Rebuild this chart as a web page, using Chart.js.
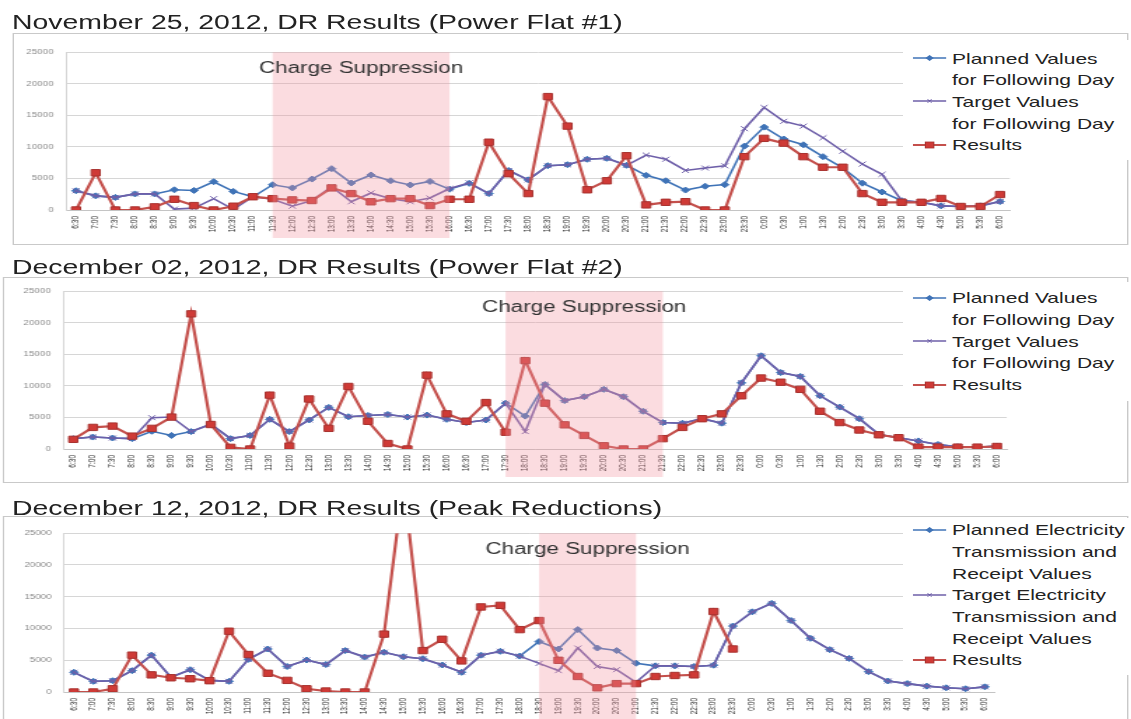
<!DOCTYPE html>
<html>
<head>
<meta charset="utf-8">
<script src="https://cdn.jsdelivr.net/npm/chart.js@4.4.1/dist/chart.umd.min.js"></script>
<style>
  html, body { margin: 0; padding: 0; background: #fff; overflow: hidden; }
  body { width: 1131px; height: 719px; position: relative; }
  /* the source picture is stretched sideways, so the whole page is too */
  #page { position: absolute; left: 0; top: 0; width: 808px; height: 719px;
          transform: scaleX(1.4); transform-origin: 0 0;
          font-family: 'Liberation Sans', Arial, sans-serif; color: #222; }
  .title { position: absolute; left: 8.6px; font-size: 20.3px; line-height: 20px; white-space: nowrap; }
  .frame { position: absolute; border: 1px solid #c9c9c9; box-sizing: border-box; }
  .plot { position: absolute; left: 0; width: 808px; }
  .legend { position: absolute; left: 645px; width: 163px; background: #fff;
            font-size: 15px; line-height: 21.7px; }
  .item { position: relative; padding-left: 35px; white-space: nowrap; }
  .item svg { position: absolute; left: 7px; top: 4.5px; }
</style>
</head>
<body>
<div id="page">
  <div class="frame" style="left:8.6px; top:33px; width:797px; height:212px;"></div>
  <div class="frame" style="left:2px; top:277px; width:804px; height:206px;"></div>
  <div class="frame" style="left:2px; top:516px; width:804px; height:210px;"></div>

  <div class="title" style="top:12px;">November 25, 2012, DR Results (Power Flat #1)</div>
  <div class="title" style="top:257px;">December 02, 2012, DR Results (Power Flat #2)</div>
  <div class="title" style="top:498px;">December 12, 2012, DR Results (Peak Reductions)</div>

  <div class="plot" style="top:39px; height:201px;"><canvas id="c1"></canvas></div>
  <div class="plot" style="top:278px; height:201px;"><canvas id="c2"></canvas></div>
  <div class="plot" style="top:520px; height:202px;"><canvas id="c3"></canvas></div>

  <div class="legend" id="lg1" style="top:40px; padding-top:7.5px; padding-bottom:4px;"></div>
  <div class="legend" id="lg2" style="top:282px; padding-top:5.2px; padding-bottom:4px;"></div>
  <div class="legend" id="lg3" style="top:518px; padding-top:1.2px; padding-bottom:4px;"></div>
</div>

<script>
const times = ['6:30','7:00','7:30','8:00','8:30','9:00','9:30','10:00','10:30','11:00','11:30','12:00',
  '12:30','13:00','13:30','14:00','14:30','15:00','15:30','16:00','16:30','17:00','17:30','18:00',
  '18:30','19:00','19:30','20:00','20:30','21:00','21:30','22:00','22:30','23:00','23:30','0:00',
  '0:30','1:00','1:30','2:00','2:30','3:00','3:30','4:00','4:30','5:00','5:30','6:00'];

// November 25 (Power Flat #1)
const nov25_planned = [3050,2240,2000,2550,2550,3200,3100,4480,2950,2100,4000,3500,
  4900,6550,4280,5550,4630,3970,4530,3300,4220,2600,6260,4780,
  7020,7180,8040,8190,7080,5500,4630,3160,3770,4020,10130,13130,
  11250,10330,8450,6670,4250,2850,1480,1220,660,560,660,1330];
const nov25_target = [3050,2240,2000,2550,2550,150,300,1800,100,2100,1700,600,
  1500,3700,1300,2700,1800,1300,1900,3400,4300,2600,6260,4780,
  7020,7180,8040,8190,7080,8700,8040,6260,6650,7000,12880,16240,
  14050,13290,11450,9310,7280,5650,1480,1220,660,560,660,1330];
const nov25_results = [0,5900,0,0,500,1700,700,0,600,2100,1800,1600,
  1500,3500,2600,1300,1800,1800,700,1700,1700,10740,5750,2600,
  17970,13290,3200,4630,8600,810,1220,1320,0,0,8450,11350,
  10590,8450,6770,6770,2600,1220,1220,1220,1830,560,560,2450];

// December 02 (Power Flat #2)
const dec02_planned = [1640,1890,1740,1640,2810,2150,2760,3930,1640,2150,4700,2760,
  4600,6590,5110,5310,5470,5060,5370,4700,4190,4600,7260,5210,
  10220,7670,8280,9450,8280,5980,4190,4090,4800,4090,10480,14770,
  12110,11500,8430,6640,4800,2300,1790,1280,720,360,260,460];
const dec02_target = [1640,1890,1740,1640,4960,5060,2760,3930,1640,2150,4700,2760,
  4600,6590,5110,5310,5470,5060,5370,4700,4190,4600,7260,2760,
  10220,7670,8280,9450,8280,5980,4190,4090,4800,4090,10480,14770,
  12110,11500,8430,6640,4800,2300,1790,1280,720,360,260,460];
const dec02_results = [1530,3420,3630,2040,3270,5060,21410,3880,260,0,8530,460,
  7920,3270,9910,4390,870,0,11700,5570,4390,7360,2660,14000,
  7260,3830,2150,510,0,0,1640,3420,4800,5570,8430,11240,
  10580,9450,5980,4190,3010,2250,1790,300,300,300,300,400];

// December 12 (Peak Reductions)
const dec12_planned = [3100,1680,1780,3360,5800,2340,3510,1830,1680,5140,6770,4020,
  5040,4330,6520,5500,6260,5550,5240,4250,3100,5800,6410,5650,
  7940,6770,9820,6920,6520,4530,4120,4120,4020,4220,10380,12620,
  13950,11250,8450,6670,5290,3200,1730,1320,920,660,510,810];
const dec12_target = [3100,1680,1780,3360,5800,2340,3510,1830,1680,5140,6770,4020,
  5040,4330,6520,5500,6260,5550,5240,4250,3100,5800,6410,5650,
  4500,3360,6920,4020,3510,1530,4120,4120,4020,4220,10380,12620,
  13950,11250,8450,6670,5290,3200,1730,1320,920,660,510,810];
const dec12_results = [0,0,510,5800,2700,2240,2090,1780,9570,5900,2950,1830,
  510,150,0,0,9110,33000,6520,8300,4890,13390,13640,9820,
  11250,4990,2440,660,1320,1320,2440,2600,2700,12670,6770,null,
  null,null,null,null,null,null,null,null,null,null,null,null];

const legend_flat = [['Planned Values', 'for Following Day'], ['Target Values', 'for Following Day'], ['Results']];
const legend_peak = [['Planned Electricity', 'Transmission and', 'Receipt Values'],
  ['Target Electricity', 'Transmission and', 'Receipt Values'], ['Results']];

const BLUE = '#3f73b7';
const PURPLE = '#6e5fa9';
const RED = '#c4504c';
const FONT = "'Liberation Sans', Arial, sans-serif";

Chart.defaults.font.family = FONT;

const bandPlugin = {
    id: 'band',
    afterDraw(chart, args, opts) {
        const xs = chart.scales.x;
        const area = chart.chartArea;
        const ctx = chart.ctx;
        const x0 = xs.getPixelForValue(opts.from);
        const x1 = xs.getPixelForValue(opts.to);

        ctx.save();
        ctx.fillStyle = 'rgba(244, 150, 160, 0.33)';
        ctx.fillRect(x0, area.top, x1 - x0, area.bottom - area.top + 28);
        ctx.fillStyle = '#333';
        ctx.font = '16px ' + FONT;
        ctx.textAlign = 'center';
        ctx.textBaseline = 'alphabetic';
        ctx.fillText(opts.text, (x0 + x1) / 2, area.top + 21);
        ctx.restore();
    }
};

function create_plot(canvas_id, planned, target, results, band, left, right_pad) {
    new Chart(document.getElementById(canvas_id), {
        type: 'line',
        data: {
            labels: times,
            datasets: [
                {
                    label: 'Results', data: results, order: 0,
                    borderColor: RED, borderWidth: 2.2,
                    pointStyle: 'rect', pointRadius: 4.5,
                    pointBackgroundColor: '#cf3a36', pointBorderColor: '#a8322f', pointBorderWidth: 1
                },
                {
                    label: 'Target', data: target, order: 1,
                    borderColor: PURPLE, borderWidth: 1.6,
                    pointStyle: 'crossRot', pointRadius: 3.5,
                    pointBorderColor: PURPLE, pointBorderWidth: 1
                },
                {
                    label: 'Planned', data: planned, order: 2,
                    borderColor: BLUE, borderWidth: 1.6,
                    pointStyle: 'rectRot', pointRadius: 3,
                    pointBackgroundColor: BLUE, pointBorderColor: BLUE, pointBorderWidth: 1
                }
            ]
        },
        options: {
            responsive: true,
            maintainAspectRatio: false,
            animation: false,
            layout: { padding: { left: 0, right: right_pad, top: 8, bottom: 0 } },
            elements: { line: { tension: 0 } },
            scales: {
                x: {
                    offset: true,
                    grid: { display: false, drawTicks: false },
                    border: { display: true, color: '#c4c4c4' },
                    ticks: {
                        autoSkip: false, maxRotation: 90, minRotation: 90, padding: 6,
                        color: '#333', font: { size: 6.5 }
                    },
                    afterFit(scale) { scale.height = 30; }
                },
                y: {
                    min: 0, max: 25000,
                    grid: { color: '#d6d6d6', drawTicks: false },
                    border: { display: true, color: '#d6d6d6' },
                    ticks: {
                        stepSize: 5000, padding: 9, color: '#8a8a8a', font: { size: 7 },
                        callback: (value) => String(value)
                    },
                    afterFit(scale) { scale.width = left; }
                }
            },
            plugins: {
                legend: { display: false },
                tooltip: { enabled: false },
                band: band
            }
        },
        plugins: [bandPlugin]
    });
}

function sample_svg(kind) {
    let mark = '';
    if (kind === 0) {
        mark = `<path d="M12 3 L15 6 L12 9 L9 6 Z" fill="${BLUE}"/>`;
        return `<svg width="24" height="12"><line x1="0" y1="6" x2="24" y2="6" stroke="${BLUE}" stroke-width="1.6"/>${mark}</svg>`;
    }
    if (kind === 1) {
        mark = `<path d="M10.5 4.5 L13.5 7.5 M13.5 4.5 L10.5 7.5" stroke="${PURPLE}" stroke-width="1"/>`;
        return `<svg width="24" height="12"><line x1="0" y1="6" x2="24" y2="6" stroke="${PURPLE}" stroke-width="1.6"/>${mark}</svg>`;
    }
    mark = `<rect x="9" y="3" width="6" height="6" fill="#cf3a36" stroke="#a8322f" stroke-width="0.8"/>`;
    return `<svg width="24" height="12"><line x1="0" y1="6" x2="24" y2="6" stroke="${RED}" stroke-width="2"/>${mark}</svg>`;
}

function build_legend(div_id, entries) {
    const div = document.getElementById(div_id);
    div.innerHTML = entries.map((lines, k) =>
        `<div class="item">${sample_svg(k)}${lines.join('<br>')}</div>`).join('');
}

create_plot('c1', nov25_planned, nov25_target, nov25_results,
    { from: 10, to: 19, text: 'Charge Suppression' }, 47.3, 86.7);
create_plot('c2', dec02_planned, dec02_target, dec02_results,
    { from: 22, to: 30, text: 'Charge Suppression' }, 45.3, 88.9);
create_plot('c3', dec12_planned, dec12_target, dec12_results,
    { from: 24, to: 29, text: 'Charge Suppression' }, 45.9, 97.6);

build_legend('lg1', legend_flat);
build_legend('lg2', legend_flat);
build_legend('lg3', legend_peak);
</script>
</body>
</html>
